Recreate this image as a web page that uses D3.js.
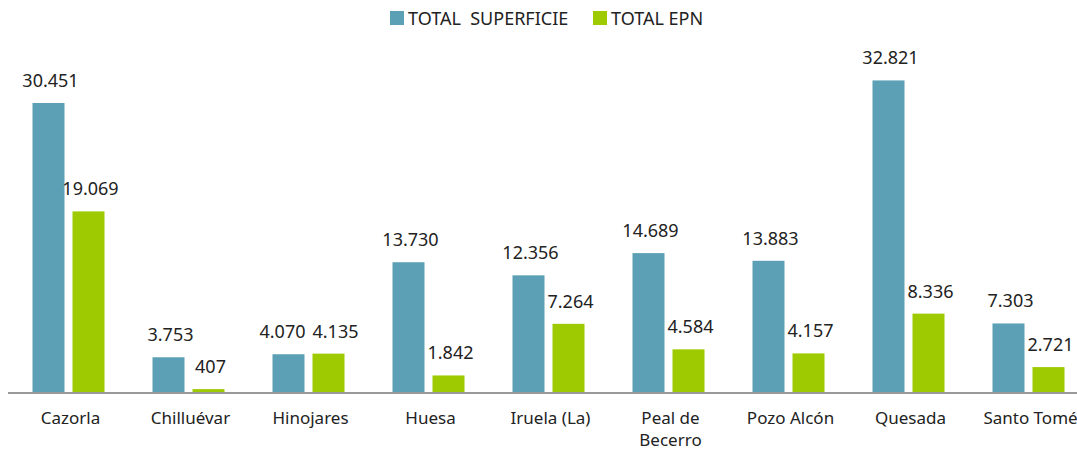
<!DOCTYPE html>
<html>
<head>
<meta charset="utf-8">
<script src="https://cdn.jsdelivr.net/npm/d3@7"></script>
<style>
  body { margin: 0; background: #fff; }
  text { font-family: "Noto Sans", "Open Sans", sans-serif; fill: #222; }
</style>
</head>
<body>
<div id="chart"></div>
<script>
// Data
let municipios = ["Cazorla", "Chilluévar", "Hinojares", "Huesa", "Iruela (La)", "Peal de Becerro", "Pozo Alcón", "Quesada", "Santo Tomé"];
let superficie = [30451, 3753, 4070, 13730, 12356, 14689, 13883, 32821, 7303];
let epn = [19069, 407, 4135, 1842, 7264, 4584, 4157, 8336, 2721];
let seriesNames = ["TOTAL  SUPERFICIE", "TOTAL EPN"];
let colors = ["#5ba0b4", "#9dca00"];

let svgWidth = 1077;
let svgHeight = 450;
let baseY = 393;

let svg = d3.select("#chart")
    .append("svg")
    .attr("width", svgWidth)
    .attr("height", svgHeight);

// scales
let x0 = d3.scaleBand()
    .domain(municipios)
    .range([8.5, 1088.5])
    .paddingInner(0.4)
    .paddingOuter(0.2);

let x1 = d3.scaleBand()
    .domain([0, 1])
    .range([0, x0.bandwidth()])
    .paddingInner(0.2);

let y = d3.scaleLinear()
    .domain([0, 30451])
    .range([baseY, 103]);

let rows = municipios.map((m, i) => ({ name: m, values: [superficie[i], epn[i]] }));

// bars
let groups = svg.append("g")
    .selectAll("g")
    .data(rows)
    .join("g")
    .attr("transform", d => `translate(${x0(d.name)},0)`);

groups.selectAll("rect")
    .data(d => d.values.map((v, k) => ({ k: k, v: v })))
    .join("rect")
    .attr("x", d => x1(d.k))
    .attr("y", d => y(d.v))
    .attr("width", x1.bandwidth())
    .attr("height", d => baseY - y(d.v))
    .attr("fill", d => colors[d.k]);

// value labels, pushed apart when the two sit at the same height
let fmt = d3.formatLocale({ decimal: ",", thousands: ".", grouping: [3], currency: ["", "€"] }).format(",d");
groups.selectAll("text.val")
    .data(d => {
        let close = Math.abs(y(d.values[0]) - y(d.values[1])) < 18;
        return d.values.map((v, k) => ({ k: k, v: v, shift: close ? (k === 0 ? -6 : 7) : 2 }));
    })
    .join("text")
    .attr("class", "val")
    .attr("x", d => x1(d.k) + x1.bandwidth() / 2 + d.shift)
    .attr("y", d => y(d.v) - 16)
    .attr("text-anchor", "middle")
    .style("font-size", "18px")
    .text(d => fmt(d.v));

// x axis line
svg.append("line")
    .attr("x1", 8)
    .attr("x2", svgWidth)
    .attr("y1", baseY)
    .attr("y2", baseY)
    .attr("stroke", "#999")
    .attr("stroke-width", 2);

// category labels (wrap Peal de Becerro)
let catLabels = svg.append("g")
    .selectAll("text")
    .data(municipios)
    .join("text")
    .attr("x", d => x0(d) + x0.bandwidth() / 2 + 2)
    .attr("y", 424)
    .attr("text-anchor", "middle")
    .style("font-size", "17px");

catLabels.each(function(d) {
    let t = d3.select(this);
    let parts = d === "Peal de Becerro" ? ["Peal de", "Becerro"] : [d];
    parts.forEach((p, i) => {
        t.append("tspan")
            .attr("x", t.attr("x"))
            .attr("dy", i === 0 ? 0 : 22)
            .text(p);
    });
});

// legend
let legend = svg.append("g");
let legendX = [390, 593];
seriesNames.forEach((s, i) => {
    legend.append("rect")
        .attr("x", legendX[i])
        .attr("y", 11)
        .attr("width", 14)
        .attr("height", 14)
        .attr("fill", colors[i]);
    legend.append("text")
        .attr("x", legendX[i] + 18)
        .attr("y", 24.5)
        .style("font-size", "18px")
        .style("white-space", "pre")
        .attr("xml:space", "preserve")
        .text(s);
});
</script>
</body>
</html>
